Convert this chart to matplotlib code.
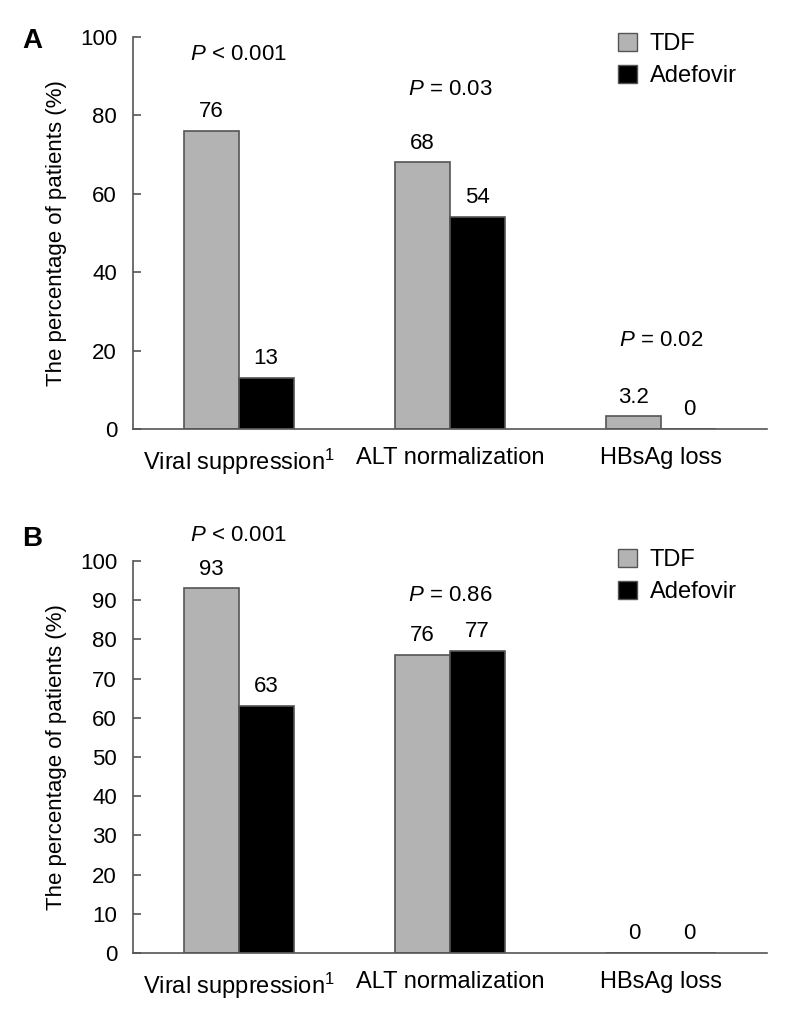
import matplotlib
matplotlib.use("Agg")
import matplotlib.pyplot as plt
from matplotlib.patches import Patch
import numpy as np

categories = ["Viral suppression$^1$", "ALT normalization", "HBsAg loss"]
series = ["TDF", "Adefovir"]
tdf_a = [76, 68, 3.2]
ade_a = [13, 54, 0]
tdf_b = [93, 76, 0]
ade_b = [63, 77, 0]
labels_tdf_a = ["76", "68", "3.2"]
labels_ade_a = ["13", "54", "0"]
labels_tdf_b = ["93", "76", "0"]
labels_ade_b = ["63", "77", "0"]
pvals_a = [(0, 94.2, "< 0.001"), (1, 85.2, "= 0.03"), (2, 21.2, "= 0.02")]
pvals_b = [(0, 105.1, "< 0.001"), (1, 89.8, "= 0.86")]

FONT = "Liberation Sans"
plt.rcParams['font.family'] = [FONT, 'DejaVu Sans']
plt.rcParams['mathtext.fontset'] = 'custom'
plt.rcParams['mathtext.rm'] = FONT
plt.rcParams['mathtext.it'] = FONT + ':italic'
plt.rcParams['mathtext.bf'] = FONT + ':bold'
fs = 16
fsx = 17
gray = "#b3b3b3"
edge = "#555555"

fig = plt.figure(figsize=(7.87, 10.15), dpi=100)
axA = fig.add_axes([0.169, 0.57734, 0.8056, 0.38621])
axB = fig.add_axes([0.169, 0.06108, 0.8056, 0.38621])

w = 0.26
x = np.arange(len(categories))

def draw(ax, tdf, ade, ltdf, lade, pv, yticks, letter, letter_y, leg_y):
    ax.bar(x - w/2, tdf, w, color=gray, edgecolor=edge, linewidth=1.2)
    ax.bar(x + w/2, ade, w, color="black", edgecolor=edge, linewidth=1.2)
    for xi, v, l in zip(x - w/2, tdf, ltdf):
        ax.annotate(l, (xi, v), xytext=(0, 10), textcoords="offset points",
                    ha="center", va="baseline", fontsize=fs)
    for xi, v, l in zip(x + w/2, ade, lade):
        ax.annotate(l, (xi, v), xytext=(0, 10), textcoords="offset points",
                    ha="center", va="baseline", fontsize=fs)
    for xi, yv, s in pv:
        ax.text(xi, yv, "$\\mathit{P}$ " + s, ha="center", va="baseline",
                fontsize=fs, clip_on=False)
    ax.set_xlim(-0.5, 2.5)
    ax.set_ylim(0, 100)
    ax.set_yticks(yticks)
    ax.set_xticks(x)
    ax.set_xticklabels(categories, fontsize=fsx)
    ax.tick_params(axis="x", length=0, pad=13)
    ax.tick_params(axis="y", direction="in", length=6, width=1.2, color=edge,
                   labelsize=fs, pad=11.5)
    for s in ["top", "right"]:
        ax.spines[s].set_visible(False)
    for s in ["left", "bottom"]:
        ax.spines[s].set_color(edge)
        ax.spines[s].set_linewidth(1.2)
    ax.set_ylabel("The percentage of patients (%)", fontsize=fs, labelpad=9)
    handles = [Patch(facecolor=gray, edgecolor=edge, label=series[0]),
               Patch(facecolor="black", edgecolor=edge, label=series[1])]
    fig.legend(handles=handles, loc="upper left",
               bbox_to_anchor=(618/787, leg_y), borderaxespad=0, borderpad=0,
               frameon=False, fontsize=fsx, handlelength=0.8, handleheight=0.8,
               handletextpad=0.55, labelspacing=0.4)
    fig.text(22/787, letter_y, letter, fontsize=20, fontweight="bold",
             ha="left", va="center")

draw(axA, tdf_a, ade_a, labels_tdf_a, labels_ade_a, pvals_a,
     [0, 20, 40, 60, 80, 100], "A", 1 - 41.5/1015, 1 - 33/1015)
draw(axB, tdf_b, ade_b, labels_tdf_b, labels_ade_b, pvals_b,
     list(range(0, 101, 10)), "B", 1 - 539/1015, 1 - 549/1015)

fig.savefig("out.png", dpi=100)
